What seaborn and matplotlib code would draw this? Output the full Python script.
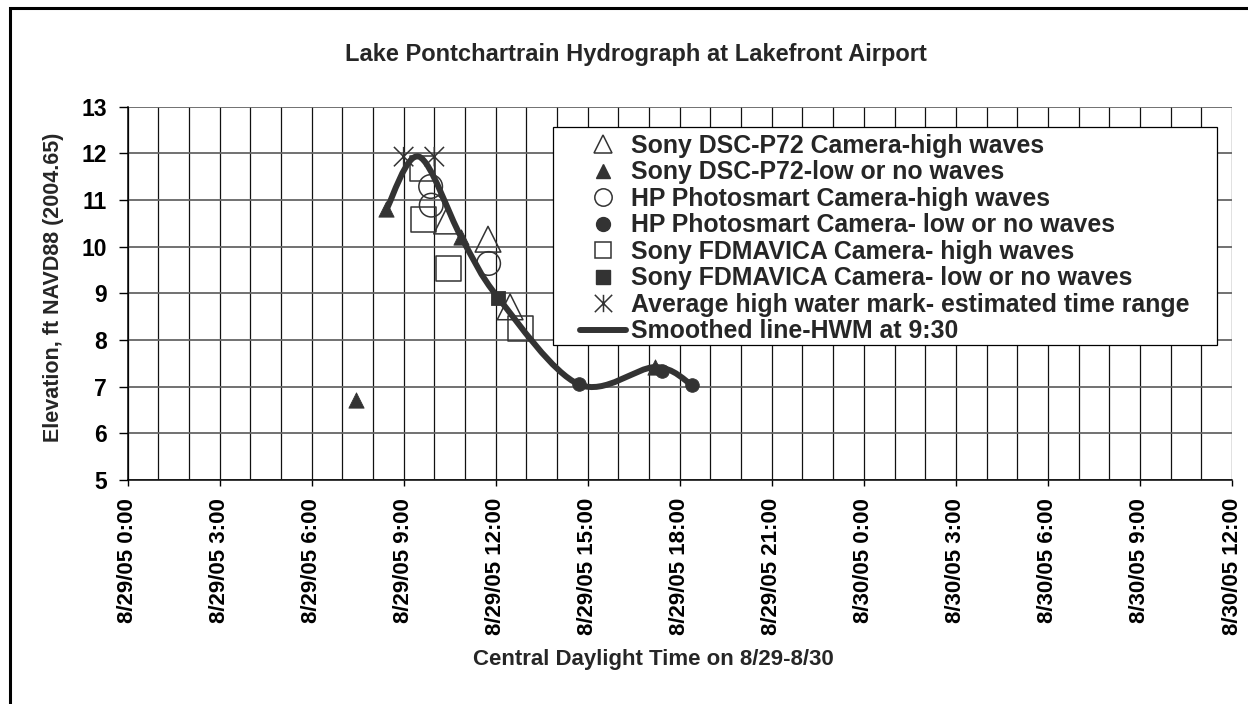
import numpy as np
import matplotlib
matplotlib.use("Agg")
import matplotlib.pyplot as plt
import seaborn as sns
from matplotlib.path import Path
from matplotlib.patches import PathPatch, Rectangle
from matplotlib.lines import Line2D

# ---------------- data (hours after 8/29/05 0:00 CDT, elevation ft) ----------------
sony_high_x = [10.40, 11.75, 12.47]
sony_high_y = [10.55, 10.16, 8.71]
sony_low_x = [7.46, 8.44, 10.88, 17.18]
sony_low_y = [6.72, 10.80, 10.20, 7.43]
hp_high_x = [9.88, 9.90, 11.77]
hp_high_y = [11.29, 10.89, 9.64]
hp_low_x = [14.71, 17.43, 18.39]
hp_low_y = [7.05, 7.34, 7.04]
fd_high_x = [9.62, 9.66, 10.47, 12.80]
fd_high_y = [11.68, 10.59, 9.54, 8.25]
fd_low_x = [12.09]
fd_low_y = [8.90]
hwm_x = [9.0, 10.0]
hwm_y = [11.93, 11.93]
smooth_x = [8.44, 9.50, 10.88, 12.09, 14.71, 17.20, 18.39]
smooth_y = [10.80, 11.93, 10.20, 8.90, 7.05, 7.42, 7.04]

tick_hours = list(range(0, 37, 3))
tick_labels = ["8/29/05 0:00", "8/29/05 3:00", "8/29/05 6:00", "8/29/05 9:00",
               "8/29/05 12:00", "8/29/05 15:00", "8/29/05 18:00", "8/29/05 21:00",
               "8/30/05 0:00", "8/30/05 3:00", "8/30/05 6:00", "8/30/05 9:00",
               "8/30/05 12:00"]
legend_labels = ["Sony DSC-P72 Camera-high waves",
                 "Sony DSC-P72-low or no waves",
                 "HP Photosmart Camera-high waves",
                 "HP Photosmart Camera- low or no waves",
                 "Sony FDMAVICA Camera- high waves",
                 "Sony FDMAVICA Camera- low or no waves",
                 "Average high water mark- estimated time range",
                 "Smoothed line-HWM at 9:30"]
title = "Lake Pontchartrain Hydrograph at Lakefront Airport"
xlabel = "Central Daylight Time on 8/29-8/30"
ylabel = "Elevation, ft NAVD88 (2004.65)"

# ---------------- style ----------------
sns.set_style("white")
plt.rcParams["font.family"] = ["Liberation Sans", "DejaVu Sans"]
plt.rcParams["font.weight"] = "bold"

W, H = 1248, 704
fx = lambda p: p / W
fy = lambda p: 1 - p / H

fig = plt.figure(figsize=(W / 100, H / 100), dpi=100)
fig.patch.set_facecolor("white")
ax = fig.add_axes([fx(127.5), fy(480), (1232 - 127.5) / W, (480 - 106.7) / H])
ax.set_facecolor("white")

dark = "#333333"
star = Path([(0, -1), (0, 1), (-1, -1), (1, 1), (-1, 1), (1, -1)],
            [Path.MOVETO, Path.LINETO, Path.MOVETO, Path.LINETO, Path.MOVETO, Path.LINETO])

series = [
    (sony_high_x, sony_high_y, "^", 18.5, False),
    (sony_low_x, sony_low_y, "^", 11.0, True),
    (hp_high_x, hp_high_y, "o", 17.0, False),
    (hp_low_x, hp_low_y, "o", 9.8, True),
    (fd_high_x, fd_high_y, "s", 18.0, False),
    (fd_low_x, fd_low_y, "s", 10.0, True),
    (hwm_x, hwm_y, star, 14.0, False),
]
for xs, ys, m, ms, filled in series:
    sns.scatterplot(x=xs, y=ys, marker=m, s=ms ** 2, color=dark, ax=ax,
                    legend=False, zorder=3)
    coll = ax.collections[-1]
    coll.set_facecolor(dark if filled else "none")
    coll.set_edgecolor(dark)
    coll.set_linewidth(0.6 if filled else 1.1)

# smoothed line: Excel-style cubic Bezier through the knots
px = np.array(smooth_x)
py = np.array(smooth_y)
n = len(px)
verts = [(px[0], py[0])]
codes = [Path.MOVETO]
for i in range(n - 1):
    p0 = np.array([px[max(i - 1, 0)], py[max(i - 1, 0)]])
    p1 = np.array([px[i], py[i]])
    p2 = np.array([px[i + 1], py[i + 1]])
    p3 = np.array([px[min(i + 2, n - 1)], py[min(i + 2, n - 1)]])
    c1 = p1 + (p2 - p0) / 6.0
    c2 = p2 - (p3 - p1) / 6.0
    verts += [tuple(c1), tuple(c2), tuple(p2)]
    codes += [Path.CURVE4] * 3
ax.add_patch(PathPatch(Path(verts, codes), facecolor="none", edgecolor=dark,
                       lw=4.3, zorder=4, capstyle="round", joinstyle="round"))

# axes, grid, ticks
ax.set_xlim(0, 36)
ax.set_ylim(5, 13)
ax.set_xticks(tick_hours)
ax.set_xticks(range(0, 37), minor=True)
ax.set_xticklabels(tick_labels, rotation=90, fontsize=16, fontweight="bold")
ax.set_yticks(range(5, 14))
ax.set_yticklabels([str(v) for v in range(5, 14)], fontsize=16.5, fontweight="bold")
ax.set_axisbelow(True)
ax.grid(True, axis="x", which="both", color="#111111", lw=0.9)
ax.grid(True, axis="y", which="major", color="#666666", lw=1.3)
ax.tick_params(axis="x", which="major", direction="out", length=4.5, width=1.0,
               pad=8.5, colors="black")
ax.tick_params(axis="x", which="minor", length=0)
ax.tick_params(axis="y", which="major", direction="out", length=6.5, width=1.0,
               pad=8.5, colors="black", left=True)
ax.tick_params(axis="x", bottom=True)
for s in ["top", "right"]:
    ax.spines[s].set_visible(False)
for s in ["left", "bottom"]:
    ax.spines[s].set_color("black")
    ax.spines[s].set_linewidth(1.1)

# legend
handles = [
    Line2D([], [], ls="none", marker="^", ms=13, mfc="none", mec=dark, mew=1.1),
    Line2D([], [], ls="none", marker="^", ms=10.5, mfc=dark, mec=dark),
    Line2D([], [], ls="none", marker="o", ms=12.5, mfc="none", mec=dark, mew=1.1),
    Line2D([], [], ls="none", marker="o", ms=10, mfc=dark, mec=dark),
    Line2D([], [], ls="none", marker="s", ms=12, mfc="none", mec=dark, mew=1.1),
    Line2D([], [], ls="none", marker="s", ms=10, mfc=dark, mec=dark),
    Line2D([], [], ls="none", marker=star, ms=12.5, mfc="none", mec=dark, mew=1.1),
    Line2D([], [], ls="-", lw=4.3, color=dark, solid_capstyle="round"),
]
ax.add_patch(Rectangle((fx(553), fy(345)), (1217 - 553) / W, (345 - 127) / H,
                       transform=fig.transFigure, facecolor="white", edgecolor="black",
                       lw=0.9, zorder=4.5, clip_on=False))
leg = ax.legend(handles, legend_labels, loc="upper left",
                bbox_to_anchor=(fx(580), fy(134)), bbox_transform=fig.transFigure,
                frameon=False, borderpad=0, borderaxespad=0, handlelength=1.85,
                handletextpad=0.2, labelspacing=0.1,
                prop=dict(weight="bold", size=17.9))
leg.set_zorder(6)

# texts
fig.text(fx(636), fy(55), title, ha="center", va="center", fontsize=17, fontweight="bold")
fig.text(fx(653), fy(660), xlabel, ha="center", va="center", fontsize=16, fontweight="bold")
fig.text(fx(54), fy(287.5), ylabel, ha="center", va="center", rotation=90,
         fontsize=15.5, fontweight="bold")

# outer chart border
fig.add_artist(Rectangle((fx(10), -0.1), 1.2, (H - 8) / H + 0.1, transform=fig.transFigure,
                         facecolor="none", edgecolor="black", lw=2.2))

fig.savefig("out.png", dpi=100)
